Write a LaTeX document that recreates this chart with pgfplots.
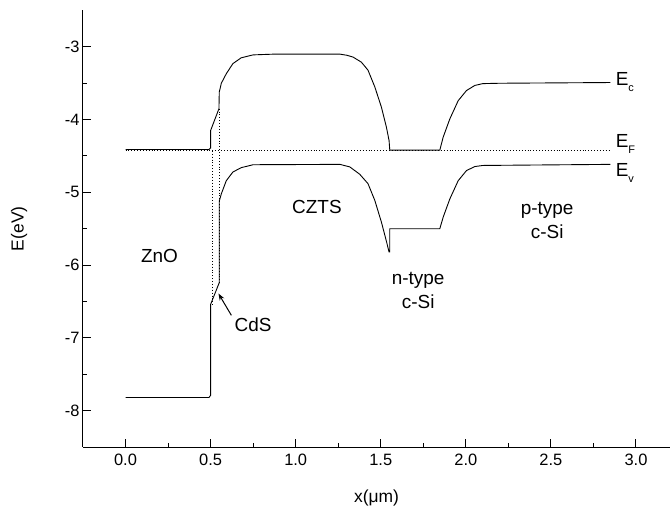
\documentclass[border=0pt]{standalone}
\usepackage{fontspec}
\setmainfont{Liberation Sans}
\usepackage{pgfplots}
\pgfplotsset{compat=1.18}
\usetikzlibrary{arrows.meta}
\newcommand{\lf}{\fontsize{19}{24}\selectfont}
\newcommand{\sub}[1]{\raisebox{-0.6ex}{\fontsize{11}{12}\selectfont #1}}

\begin{document}
\begin{tikzpicture}
\begin{axis}[
  scale only axis,
  width=587bp, height=436.5bp,
  xmin=-0.25, xmax=3.2, ymin=-8.5, ymax=-2.5,
  axis x line=bottom, axis y line=left,
  axis line style={-, line width=1bp},
  tick align=inside,
  major tick length=8bp, minor tick length=4bp,
  every tick/.style={black, line width=1bp},
  xtick={0,0.5,1,1.5,2,2.5,3},
  xticklabels={0.0,0.5,1.0,1.5,2.0,2.5,3.0},
  ytick={-8,-7,-6,-5,-4,-3},
  yticklabels={-8,-7,-6,-5,-4,-3},
  minor x tick num=1, minor y tick num=1,
  tick label style={font=\fontsize{16.5}{19}\selectfont},
  xticklabel style={yshift=-4bp},
  label style={font=\fontsize{17.5}{20}\selectfont},
  xlabel={x(μm)}, ylabel={E(eV)},
  xlabel style={at={(axis description cs:0.5,-0.117)}, anchor=center},
  ylabel style={at={(axis description cs:-0.109,0.5)}, anchor=center},
  cycle list={{black, solid}},
  every axis plot/.append style={line width=0.9bp, no markers},
  clip=false,
]
% conduction band E_c
\addplot[black] coordinates {
 (0,-4.41) (0.49,-4.41) (0.5,-4.39) (0.5,-4.15) (0.549,-3.85) (0.551,-3.62)
 (0.563,-3.50) (0.592,-3.37) (0.631,-3.23) (0.68,-3.15) (0.75,-3.11) (0.87,-3.10)
 (1.26,-3.10) (1.30,-3.115) (1.337,-3.14) (1.386,-3.21) (1.425,-3.32) (1.465,-3.55)
 (1.504,-3.83) (1.533,-4.10) (1.549,-4.29) (1.553,-4.42) (1.847,-4.42)
 (1.867,-4.24) (1.906,-3.99) (1.955,-3.74) (2.004,-3.60) (2.053,-3.53)
 (2.10,-3.505) (2.2,-3.50) (2.85,-3.49)
};
% valence band E_v
\addplot[black] coordinates {
 (0,-7.82) (0.49,-7.82) (0.5,-7.79) (0.5,-6.54) (0.551,-6.24) (0.551,-5.12)
 (0.563,-5.02) (0.592,-4.84) (0.631,-4.72) (0.68,-4.66) (0.75,-4.62) (1.26,-4.615)
 (1.318,-4.65) (1.376,-4.75) (1.425,-4.88) (1.465,-5.11) (1.504,-5.41) (1.533,-5.67)
 (1.549,-5.82) (1.553,-5.82) (1.553,-5.50) (1.847,-5.50)
 (1.867,-5.34) (1.906,-5.09) (1.955,-4.84) (2.004,-4.70) (2.053,-4.645)
 (2.10,-4.63) (2.85,-4.615)
};
% Fermi level and CdS boundaries
\addplot[black, dotted, line width=0.8bp] coordinates {(0,-4.42) (2.85,-4.42)};
\addplot[black, dotted, line width=0.8bp] coordinates {(0.508,-4.43) (0.508,-6.54)};
\addplot[black, dotted, line width=0.8bp] coordinates {(0.553,-3.85) (0.553,-6.24)};

\draw[-{Stealth[length=7bp, width=5bp]}, line width=1bp] (axis cs:0.622,-6.69) -- (axis cs:0.546,-6.39);

\node[font=\lf] at (axis cs:0.20,-5.87) {ZnO};
\node[font=\lf] at (axis cs:0.75,-6.82) {CdS};
\node[font=\lf] at (axis cs:1.125,-5.20) {CZTS};
\node[font=\lf, align=center] at (axis cs:1.72,-6.35) {n-type\\c-Si};
\node[font=\lf, align=center] at (axis cs:2.478,-5.38) {p-type\\c-Si};
\node[font=\lf, anchor=west, inner sep=0pt] at (axis cs:2.88,-3.49) {E\sub{c}};
\node[font=\lf, anchor=west, inner sep=0pt] at (axis cs:2.88,-4.33) {E\sub{F}};
\node[font=\lf, anchor=west, inner sep=0pt] at (axis cs:2.88,-4.74) {E\sub{v}};
\end{axis}
\pgfresetboundingbox
\path[use as bounding box] ([shift={(-83bp,-60bp)}]current axis.south west)
  rectangle ([shift={(0bp,10.5bp)}]current axis.north east);
\end{tikzpicture}
\end{document}
